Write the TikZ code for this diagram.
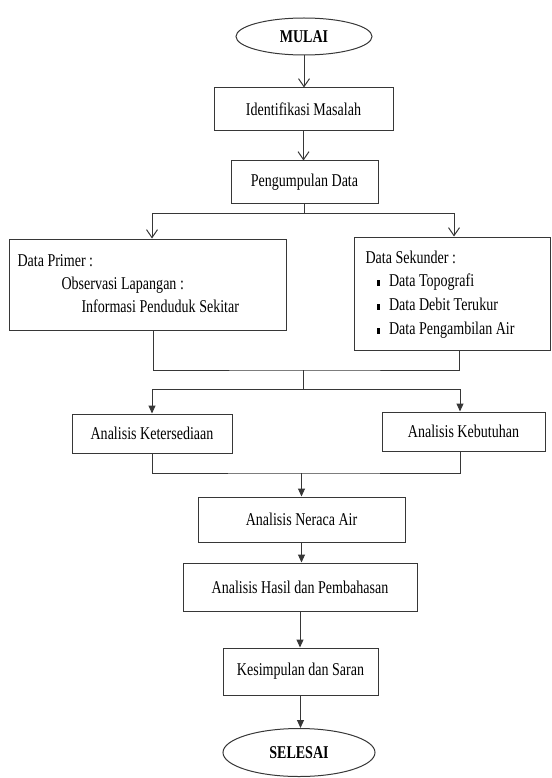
\documentclass[tikz,border=0pt]{standalone}
\usepackage{fontspec}
\setmainfont{Liberation Serif}[FakeStretch=0.78]
\usetikzlibrary{arrows.meta,shapes.geometric,calc}
\begin{document}
\begin{tikzpicture}[x=1pt,y=-1pt,
  line width=1pt,
  every node/.style={font=\fontsize{18}{24}\selectfont},
  box/.style={draw={rgb,255:red,55;green,55;blue,55}, rectangle, inner sep=0pt},
  oval/.style={draw={rgb,255:red,55;green,55;blue,55}, ellipse, inner sep=0pt, font=\fontsize{18}{24}\selectfont\bfseries},
  conn/.style={draw={rgb,255:red,55;green,55;blue,55}},
  openarr/.style={conn, -{Straight Barb[length=8pt,width=11pt]}},
  fillarr/.style={conn, -{Triangle[length=8pt,width=7pt]}},
  txt/.style={inner sep=0pt, anchor=base west}]
\useasboundingbox (0,0) rectangle (551,778);

% top
\node[oval, minimum width=136, minimum height=37] (mulai) at (304,36.5) {MULAI};
\node[box, minimum width=179, minimum height=43] (ident) at (303.5,109.5) {Identifikasi Masalah};
\node[box, minimum width=147, minimum height=42] (kumpul) at (304.5,182) {Pengumpulan Data};

% data boxes
\node[box, minimum width=277, minimum height=91] (primer) at (147.5,284.5) {};
\node[txt] (tp1) at (17,266) {Data Primer :};
\node[txt] (tp2) at (61,289) {Observasi Lapangan :};
\node[txt] (tp3) at (81,312.5) {Informasi Penduduk Sekitar};

\node[box, minimum width=196, minimum height=113] (sekunder) at (452,293.5) {};
\node[txt] (ts0) at (365,263) {Data Sekunder :};
\node[txt] (ts1) at (376,286.5) {\rule[1pt]{3.5pt}{5.5pt}\hspace{9pt}Data Topografi};
\node[txt] (ts2) at (376,310.5) {\rule[1pt]{3.5pt}{5.5pt}\hspace{9pt}Data Debit Terukur};
\node[txt] (ts3) at (376,334.5) {\rule[1pt]{3.5pt}{5.5pt}\hspace{9pt}Data Pengambilan Air};

% analysis boxes
\node[box, minimum width=160, minimum height=39] (kets) at (152,433.5) {Analisis Ketersediaan};
\node[box, minimum width=163, minimum height=39] (kebut) at (463.5,431.5) {Analisis Kebutuhan};
\node[box, minimum width=207, minimum height=45] (neraca) at (301.5,519.5) {Analisis Neraca Air};
\node[box, minimum width=234, minimum height=48] (hasil) at (300,587) {Analisis Hasil dan Pembahasan};
\node[box, minimum width=155, minimum height=47] (kesimp) at (300.5,671.5) {Kesimpulan dan Saran};
\node[oval, minimum width=152, minimum height=48] (selesai) at (299,752.5) {SELESAI};

% junction coordinates
\coordinate (s1) at (304.5,213);
\coordinate (m1) at (303,370);
\coordinate (s2) at (303,389);
\coordinate (m2) at (301.5,473);

% connectors
\draw[openarr] (mulai.south) -- (mulai.south |- ident.north);
\draw[openarr] (ident.south) -- (ident.south |- kumpul.north);
\draw[conn] (kumpul.south) -- (s1);
\draw[openarr] (s1) -| ([xshift=4.5pt]primer.north);
\draw[openarr] (s1) -| ([xshift=2pt]sekunder.north);

\draw[conn] ([xshift=5.5pt]primer.south) |- (m1) -| ([xshift=7pt]sekunder.south);
\draw[conn] (m1) -- (s2);
\draw[fillarr] (s2) -| (kets.north);
\draw[fillarr] (s2) -| ([xshift=-3.5pt]kebut.north);

\draw[conn] (kets.south) |- (m2) -| ([xshift=-3.5pt]kebut.south);
\draw[fillarr] (m2) -- (m2 |- neraca.north);
\draw[fillarr] (neraca.south) -- (neraca.south |- hasil.north);
\draw[fillarr] (hasil.south) -- (hasil.south |- kesimp.north);
\draw[fillarr] (kesimp.south) -- (kesimp.south |- selesai.north);
\end{tikzpicture}
\end{document}
